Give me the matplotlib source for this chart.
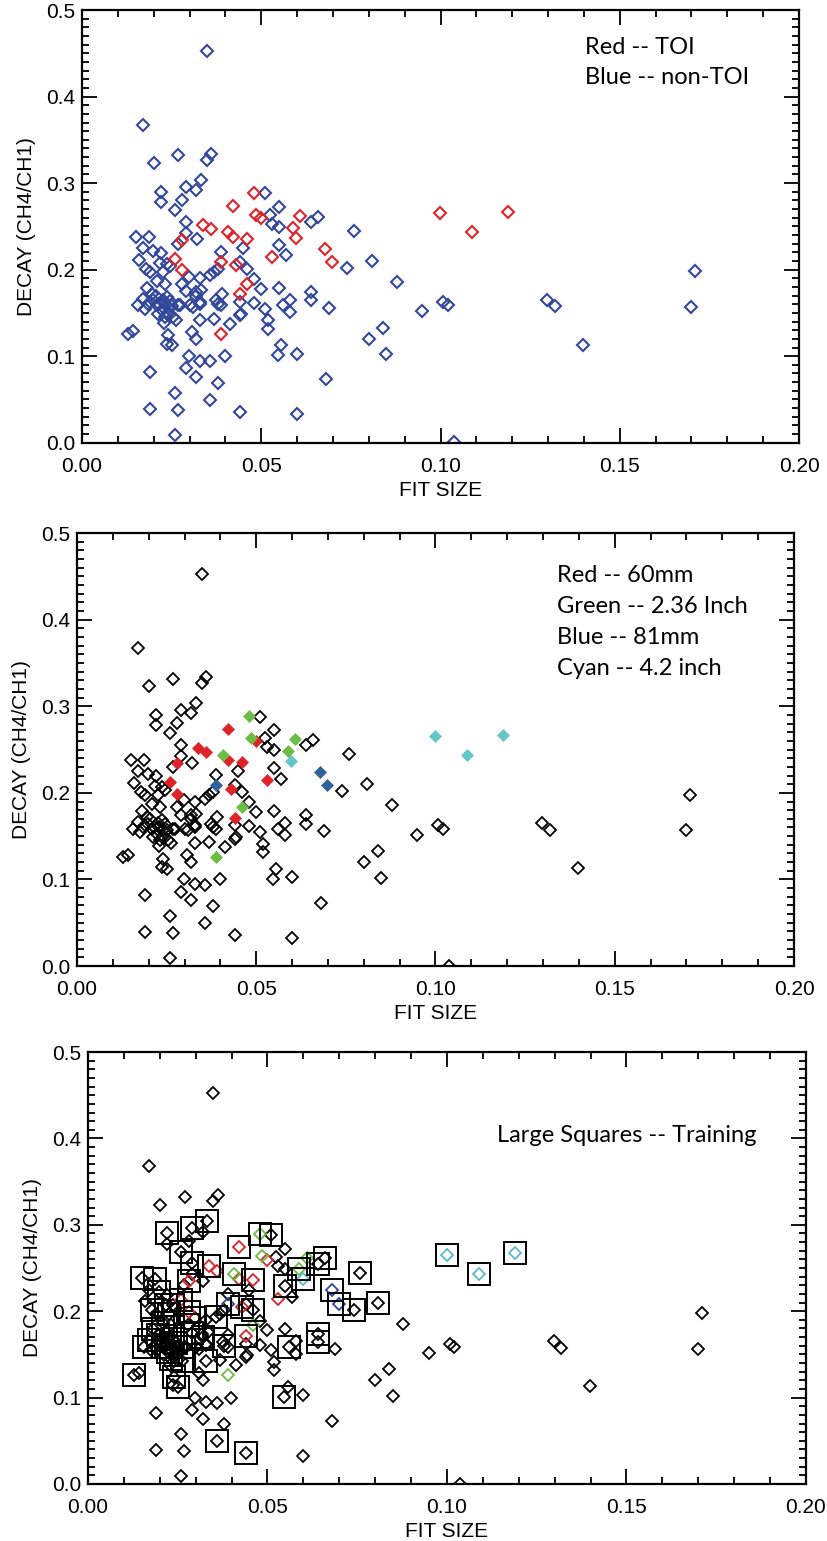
import matplotlib
matplotlib.use("Agg")
import matplotlib.pyplot as plt
from matplotlib.ticker import MultipleLocator, FormatStrFormatter

plt.rcParams['font.family'] = ['Liberation Sans', 'DejaVu Sans']

# non-TOI detections (FIT SIZE, DECAY)
nontoi_fit = [0.0349, 0.0170, 0.0200, 0.0269, 0.0361, 0.0349, 0.0331, 0.0290, 0.0319, 0.0219,
              0.0219, 0.0280, 0.0260, 0.0511, 0.0549, 0.0525, 0.0659, 0.0640, 0.0550, 0.0530,
              0.0290, 0.0290, 0.0268, 0.0321, 0.0449, 0.0150, 0.0188, 0.0171, 0.0199, 0.0219,
              0.0160, 0.0238, 0.0217, 0.0245, 0.0178, 0.0189, 0.0225, 0.0298, 0.0208, 0.0231,
              0.0329, 0.0357, 0.0368, 0.0380, 0.0389, 0.0440, 0.0461, 0.0480, 0.0500, 0.0549,
              0.0568, 0.0549, 0.0640, 0.0640, 0.0579, 0.0560, 0.0579, 0.0689, 0.0510, 0.0519,
              0.0519, 0.0440, 0.0440, 0.0444, 0.0412, 0.0368, 0.0391, 0.0389, 0.0375, 0.0380,
              0.0329, 0.0310, 0.0329, 0.0318, 0.0319, 0.0333, 0.0290, 0.0278, 0.0273, 0.0240,
              0.0180, 0.0171, 0.0157, 0.0175, 0.0194, 0.0199, 0.0208, 0.0222, 0.0213, 0.0236,
              0.0245, 0.0250, 0.0268, 0.0231, 0.0254, 0.0261, 0.0228, 0.0215, 0.0225, 0.0205,
              0.0185, 0.0240, 0.0230, 0.0301, 0.0329, 0.0480, 0.0556, 0.0547, 0.0129, 0.0141,
              0.0240, 0.0236, 0.0250, 0.0308, 0.0319, 0.0298, 0.0329, 0.0358, 0.0398, 0.0290,
              0.0319, 0.0380, 0.0189, 0.0259, 0.0358, 0.0189, 0.0268, 0.0440, 0.0600, 0.0259,
              0.0600, 0.0680, 0.0759, 0.0740, 0.0809, 0.0878, 0.0949, 0.1008, 0.1020, 0.0839,
              0.0800, 0.0849, 0.1037, 0.1297, 0.1318, 0.1398, 0.1709, 0.1698]
nontoi_decay = [0.4527, 0.3677, 0.3228, 0.3320, 0.3340, 0.3270, 0.3040, 0.2960, 0.2920, 0.2900,
                0.2780, 0.2810, 0.2690, 0.2880, 0.2720, 0.2630, 0.2613, 0.2548, 0.2490, 0.2529,
                0.2556, 0.2425, 0.2298, 0.2350, 0.2248, 0.2380, 0.2375, 0.2248, 0.2221, 0.2190,
                0.2114, 0.2068, 0.2075, 0.2037, 0.2010, 0.1970, 0.1970, 0.1920, 0.1868, 0.1837,
                0.1900, 0.1933, 0.1970, 0.2010, 0.2202, 0.2087, 0.2010, 0.1890, 0.1780, 0.2290,
                0.2164, 0.1790, 0.1740, 0.1645, 0.1653, 0.1587, 0.1510, 0.1560, 0.1550, 0.1414,
                0.1318, 0.1626, 0.1472, 0.1490, 0.1376, 0.1434, 0.1722, 0.1587, 0.1645, 0.1600,
                0.1626, 0.1568, 0.1422, 0.1740, 0.1700, 0.1760, 0.1749, 0.1837, 0.1587, 0.1568,
                0.1791, 0.1665, 0.1587, 0.1549, 0.1722, 0.1645, 0.1587, 0.1530, 0.1491, 0.1683,
                0.1637, 0.1576, 0.1587, 0.1452, 0.1452, 0.1422, 0.1383, 0.1600, 0.1650, 0.1700,
                0.1600, 0.1500, 0.1610, 0.1587, 0.1607, 0.1614, 0.1126, 0.1010, 0.1260, 0.1288,
                0.1240, 0.1146, 0.1126, 0.1280, 0.1203, 0.1000, 0.0950, 0.0940, 0.1000, 0.0858,
                0.0757, 0.0690, 0.0818, 0.0580, 0.0492, 0.0390, 0.0377, 0.0355, 0.0327, 0.0089,
                0.1030, 0.0731, 0.2444, 0.2017, 0.2098, 0.1856, 0.1518, 0.1626, 0.1587, 0.1330,
                0.1203, 0.1022, 0.0005, 0.1653, 0.1576, 0.1130, 0.1979, 0.1568]

# TOI detections by object type
mm60_fit = [0.0420, 0.0500, 0.0338, 0.0360, 0.0420, 0.0461, 0.0280, 0.0259, 0.0280, 0.0429, 0.0530, 0.0440]
mm60_decay = [0.2740, 0.2598, 0.2521, 0.2471, 0.2375, 0.2356, 0.2345, 0.2126, 0.1991, 0.2048, 0.2144, 0.1714]
in236_fit = [0.0479, 0.0486, 0.0609, 0.0589, 0.0408, 0.0459, 0.0389]
in236_decay = [0.2890, 0.2636, 0.2617, 0.2483, 0.2432, 0.1837, 0.1261]
mm81_fit = [0.0389, 0.0679, 0.0698]
mm81_decay = [0.2087, 0.2241, 0.2087]
in42_fit = [0.0598, 0.0999, 0.1088, 0.1189]
in42_decay = [0.2368, 0.2651, 0.2432, 0.2671]

# training set (large squares)
train_fit = [0.0219, 0.0290, 0.0331, 0.0260, 0.0290, 0.0338, 0.0420, 0.0479, 0.0511, 0.0408,
             0.0461, 0.0150, 0.0199, 0.0280, 0.0589, 0.0659, 0.0640, 0.0549, 0.0598, 0.0759,
             0.0679, 0.0698, 0.0740, 0.0809, 0.0640, 0.0640, 0.0999, 0.1088, 0.1189, 0.0429,
             0.0389, 0.0461, 0.0440, 0.0560, 0.0129, 0.0240, 0.0250, 0.0547, 0.0358, 0.0440,
             0.0329, 0.0380, 0.0319, 0.0357, 0.0280, 0.0259, 0.0188, 0.0217, 0.0178, 0.0238,
             0.0225, 0.0298, 0.0208, 0.0180, 0.0194, 0.0171, 0.0157, 0.0236, 0.0245, 0.0208,
             0.0222, 0.0268, 0.0231, 0.0261, 0.0290, 0.0278]
train_decay = [0.2900, 0.2960, 0.3040, 0.2690, 0.2556, 0.2521, 0.2740, 0.2890, 0.2880, 0.2432,
               0.2356, 0.2380, 0.2221, 0.2345, 0.2483, 0.2613, 0.2548, 0.2290, 0.2368, 0.2444,
               0.2241, 0.2087, 0.2017, 0.2098, 0.1740, 0.1645, 0.2651, 0.2432, 0.2671, 0.2048,
               0.2087, 0.2010, 0.1714, 0.1587, 0.1260, 0.1240, 0.1126, 0.1010, 0.0492, 0.0355,
               0.1422, 0.1600, 0.1700, 0.1933, 0.1991, 0.2126, 0.2375, 0.2075, 0.2010, 0.2068,
               0.1970, 0.1920, 0.1868, 0.1791, 0.1722, 0.1665, 0.1587, 0.1683, 0.1637, 0.1587,
               0.1530, 0.1587, 0.1452, 0.1422, 0.1749, 0.1837]

toi_fit = mm60_fit + in236_fit + mm81_fit + in42_fit
toi_decay = mm60_decay + in236_decay + mm81_decay + in42_decay

BLUE = '#33479b'
RED = '#e02229'
GREEN = '#6bbd45'
DKBLUE = '#2d6399'
CYAN = '#64c6c8'
CYAN_E = '#5bb8d0'

fig = plt.figure(figsize=(8.27, 15.41), dpi=100)
positions = [[0.0992, 0.7127, 0.8670, 0.2808],
             [0.0931, 0.3731, 0.8670, 0.2810],
             [0.1064, 0.0370, 0.8682, 0.2803]]
axes = [fig.add_axes(p) for p in positions]

for ax in axes:
    ax.set_xlim(0, 0.2)
    ax.set_ylim(0, 0.5)
    ax.xaxis.set_major_locator(MultipleLocator(0.05))
    ax.xaxis.set_minor_locator(MultipleLocator(0.01))
    ax.yaxis.set_major_locator(MultipleLocator(0.1))
    ax.yaxis.set_minor_locator(MultipleLocator(0.01))
    ax.xaxis.set_major_formatter(FormatStrFormatter('%.2f'))
    ax.yaxis.set_major_formatter(FormatStrFormatter('%.1f'))
    ax.tick_params(which='both', direction='in', top=True, right=True, width=1.3)
    ax.tick_params(which='major', length=10.5)
    ax.tick_params(which='minor', length=5)
    ax.tick_params(axis='x', which='major', labelsize=15, pad=10)
    ax.tick_params(axis='y', which='major', labelsize=15, pad=5)
    for s in ax.spines.values():
        s.set_linewidth(1.6)
    ax.set_xlabel('FIT SIZE', fontsize=15, labelpad=4)
    ax.set_ylabel('DECAY (CH4/CH1)', fontsize=15, labelpad=7)

ms = 6.0
# top panel
ax = axes[0]
ax.plot(nontoi_fit, nontoi_decay, 'D', ms=ms, mfc='none', mec=BLUE, mew=1.5)
ax.plot(toi_fit, toi_decay, 'D', ms=ms, mfc='none', mec=RED, mew=1.5)
ax.text(0.701, 0.899, 'Red -- TOI', transform=ax.transAxes, fontsize=17, family='Lato')
ax.text(0.701, 0.829, 'Blue -- non-TOI', transform=ax.transAxes, fontsize=17, family='Lato')

# middle panel
ax = axes[1]
ax.plot(nontoi_fit, nontoi_decay, 'D', ms=ms, mfc='none', mec='black', mew=1.3)
for fx, dy, c in [(mm60_fit, mm60_decay, RED), (in236_fit, in236_decay, GREEN),
                  (mm81_fit, mm81_decay, DKBLUE), (in42_fit, in42_decay, CYAN)]:
    ax.plot(fx, dy, 'D', ms=ms + 0.5, mfc=c, mec=c, mew=0.5)
labels = ['Red -- 60mm', 'Green -- 2.36 Inch', 'Blue -- 81mm', 'Cyan -- 4.2 inch']
for i, t in enumerate(labels):
    ax.text(0.67, 0.887 - i * 0.0715, t, transform=ax.transAxes, fontsize=17, family='Lato')

# bottom panel
ax = axes[2]
ax.plot(nontoi_fit, nontoi_decay, 'D', ms=ms, mfc='none', mec='black', mew=1.3)
for fx, dy, c in [(mm60_fit, mm60_decay, RED), (in236_fit, in236_decay, GREEN),
                  (mm81_fit, mm81_decay, BLUE), (in42_fit, in42_decay, CYAN_E)]:
    ax.plot(fx, dy, 'D', ms=ms, mfc='none', mec=c, mew=1.3)
ax.plot(train_fit, train_decay, 's', ms=15.5, mfc='none', mec='black', mew=1.4)
ax.text(0.57, 0.792, 'Large Squares -- Training', transform=ax.transAxes, fontsize=17, family='Lato')

fig.savefig('out.png', dpi=100)
